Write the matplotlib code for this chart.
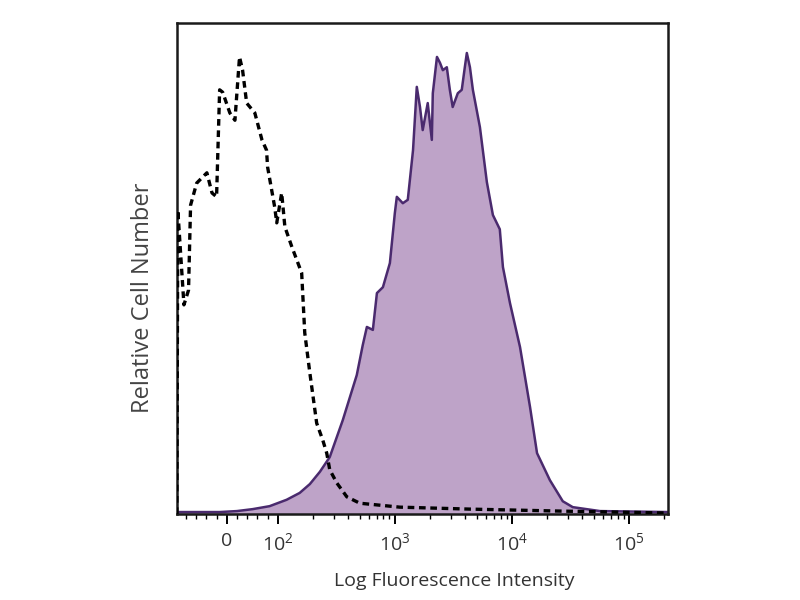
import numpy as np
import matplotlib.pyplot as plt
from matplotlib.ticker import FixedLocator

plt.rcParams['font.family'] = ['Open Sans', 'DejaVu Sans']
plt.rcParams['mathtext.fontset'] = 'custom'
plt.rcParams['mathtext.rm'] = 'Open Sans'
plt.rcParams['mathtext.it'] = 'Open Sans'

# isotype control (dashed), fluorescence intensity vs relative count
ctrl_x = [-98, -96, -84, -75, -71, -59, -39, -29, -20, -14, -8, 6, 16, 25, 31, 39,
          55, 69, 78, 80, 94, 98, 108, 115, 132, 160, 170, 188, 215, 242, 262,
          278, 320, 389, 502, 1100, 4380, 25700, 215400]
ctrl_y = [0, 61.9, 42.6, 45.6, 62.9, 67.4, 69.5, 65.4, 64.6, 86.4, 85.9, 81.7,
          80.2, 93.1, 90.4, 83.7, 81.7, 76.2, 74.1, 70.7, 62.5, 59.3, 65.4, 58.5,
          54.4, 49.1, 36.9, 28.7, 18.5, 15.1, 12.4, 9.0, 6.3, 3.5, 2.2, 1.4, 1.0,
          0.6, 0.2]

# stained sample (filled)
stain_x = [-98, -47, -14, 20, 51, 84, 119, 154, 188, 229, 278, 359, 473, 532,
           577, 649, 703, 791, 907, 1000, 1040, 1170, 1290, 1430, 1540, 1640,
           1730, 1910, 2070, 2110, 2290, 2430, 2570, 2780, 2950, 3120, 3450,
           3730, 3960, 4120, 4380, 4640, 5330, 6110, 6880, 7880, 8380, 9620,
           11730, 14280, 16390, 21100, 27200, 33100, 56500, 215400]
stain_y = [0.4, 0.4, 0.4, 0.6, 1.0, 1.6, 2.9, 4.3, 6.1, 8.6, 11.6, 19.1, 28.3,
           34.4, 38.1, 37.5, 45.0, 46.2, 51.1, 61.3, 64.6, 63.3, 64.0, 74.1,
           87.0, 82.9, 78.2, 83.7, 76.2, 85.7, 93.1, 91.9, 90.4, 91.0, 86.4,
           82.9, 85.7, 86.4, 91.0, 93.9, 91.0, 86.4, 78.8, 67.6, 60.9, 58.0,
           50.3, 43.0, 34.0, 21.8, 12.4, 6.9, 2.6, 1.4, 0.6, 0.4]

tick_vals = [0, 1e2, 1e3, 1e4, 1e5]
tick_labels = ['0', '$10^{2}$', '$10^{3}$', '$10^{4}$', '$10^{5}$']

fig = plt.figure(figsize=(8, 6), dpi=100)
ax = fig.add_axes([0.221, 0.1433, 0.614, 0.8183])

ax.set_xscale('symlog', linthresh=100, linscale=0.392)
ax.fill_between(stain_x, stain_y, 0, color='#bea3c8', lw=0, zorder=1)
ax.plot(stain_x, stain_y, color='#4a2a6e', lw=1.8, zorder=2)
ax.plot(ctrl_x, ctrl_y, color='black', lw=2.4, ls=(0, (2, 1.4)), zorder=3)

ax.set_xlim(-98, 215400)
ax.set_ylim(0, 100)
ax.set_yticks([])

minor = list(np.arange(-80, 100, 20))
for d in [1e2, 1e3, 1e4, 1e5]:
    minor += [d * k for k in range(2, 10)]
ax.xaxis.set_major_locator(FixedLocator(tick_vals))
ax.xaxis.set_minor_locator(FixedLocator([m for m in minor if m < 215400]))
ax.set_xticklabels(tick_labels)
ax.tick_params(axis='x', which='major', direction='out', length=7, width=1.4,
               pad=6, labelsize=14, labelcolor='#333333')
ax.tick_params(axis='x', which='minor', direction='out', length=3.5, width=1.0)

for s in ax.spines.values():
    s.set_linewidth(1.8)
    s.set_color('#1a1a1a')

ax.set_xlabel('Log Fluorescence Intensity', fontsize=14, color='#333333')
ax.set_ylabel('Relative Cell Number', fontsize=17, color='#444444')
ax.xaxis.set_label_coords(0.564, -0.118)
ax.yaxis.set_label_coords(-0.045, 0.44)

fig.savefig('out.png', dpi=100)
